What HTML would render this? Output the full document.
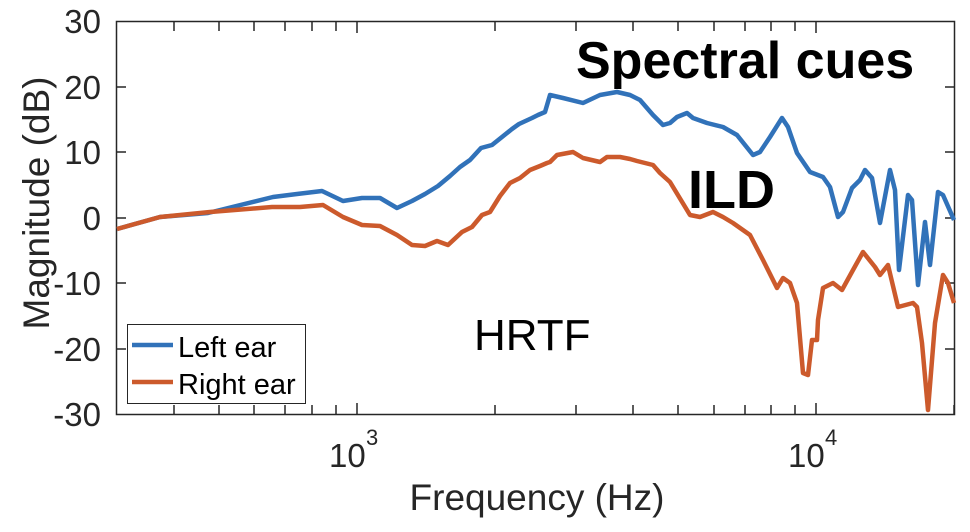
<!DOCTYPE html>
<html><head><meta charset="utf-8"><style>body{margin:0;background:#fff}svg{display:block}text{font-family:"Liberation Sans",sans-serif;fill:#262626}</style></head><body>
<svg width="970" height="532" viewBox="0 0 970 532" xmlns="http://www.w3.org/2000/svg">
<rect width="970" height="532" fill="#fff"/>
<g stroke="#262626" stroke-width="1.5" fill="none">
<rect x="116.5" y="21.5" width="838" height="393"/>
<path d="M117 87h9M117 152h9M117 218h9M117 283h9M117 349h9M954 87h-9M954 152h-9M954 218h-9M954 283h-9M954 349h-9"/>
<path d="M174 414v-9M219 414v-9M254 414v-9M285 414v-9M312 414v-9M336 414v-9M357 414v-11M495 414v-9M576 414v-9M633 414v-9M678 414v-9M714 414v-9M745 414v-9M771 414v-9M795 414v-9M816 414v-11M954 414v-9"/>
<path d="M174 22v9M219 22v9M254 22v9M285 22v9M312 22v9M336 22v9M357 22v11M495 22v9M576 22v9M633 22v9M678 22v9M714 22v9M745 22v9M771 22v9M795 22v9M816 22v11"/>
</g>
<polyline fill="none" stroke="#3172b9" stroke-width="4.5" stroke-linejoin="round" points="117,229 160,217 208,213 273,197 297,194 322,191 343,201 362,198 380,198 397,208 412,201 425,194 438,186 450,176 460,167 470,160 481,148 492,145 502,137 512,129 519,124 532,118 538,115 545,112 550,95 563,98 583,103 600,95 617,92 630,95 640,100 653,115 663,125 670,123 677,117 687,113 693,118 707,123 723,127 737,135 753,155 760,152 770,137 782,118 788,127 797,153 810,172 823,177 830,187 838,217 843,212 852,188 860,180 865,170 872,178 880,223 890,170 895,190 899,270 908,195 912,200 918,285 925,222 930,265 938,192 943,195 954,220"/>
<polyline fill="none" stroke="#cc5a2c" stroke-width="4.5" stroke-linejoin="round" points="117,229 160,217 210,212 272,207 300,207 323,205 343,217 362,225 380,226 397,235 412,245 425,246 437,241 448,245 462,232 472,227 482,215 490,212 500,196 510,183 520,178 530,170 540,166 547,163 550,162 557,155 573,152 583,158 600,162 607,157 620,157 630,159 637,161 653,165 660,173 670,182 690,215 700,217 713,212 723,217 733,223 750,235 763,260 777,288 783,278 790,283 797,303 803,373 808,375 812,340 817,340 818,320 823,288 833,283 842,290 853,270 863,252 875,267 880,275 888,265 898,307 913,303 917,307 922,343 928,410 935,323 943,275 948,283 954,303"/>
<g font-size="33" text-anchor="end">
<text x="101" y="33">30</text><text x="101" y="99">20</text><text x="101" y="164">10</text><text x="101" y="230">0</text><text x="101" y="295">-10</text><text x="101" y="361">-20</text><text x="101" y="426">-30</text>
</g>
<text x="329" y="467" font-size="33">10</text><text x="366" y="445" font-size="22">3</text>
<text x="788" y="467" font-size="33">10</text><text x="825" y="445" font-size="22">4</text>
<text x="537" y="510" font-size="37" text-anchor="middle">Frequency (Hz)</text>
<text transform="translate(49,203) rotate(-90)" font-size="37" text-anchor="middle">Magnitude (dB)</text>
<text x="576" y="78" font-size="52" font-weight="bold" style="fill:#000">Spectral cues</text>
<text x="688" y="208" font-size="54" font-weight="bold" style="fill:#000">ILD</text>
<text x="474" y="350" font-size="44" style="fill:#000">HRTF</text>
<rect x="127.5" y="324.5" width="178" height="79" fill="#fff" stroke="#262626" stroke-width="1"/>
<path d="M132 345h41" stroke="#3172b9" stroke-width="4.5"/>
<path d="M132 382h41" stroke="#cc5a2c" stroke-width="4.5"/>
<text x="178" y="357" font-size="29" style="fill:#000">Left ear</text>
<text x="178" y="394" font-size="29" style="fill:#000">Right ear</text>
</svg>
</body></html>
